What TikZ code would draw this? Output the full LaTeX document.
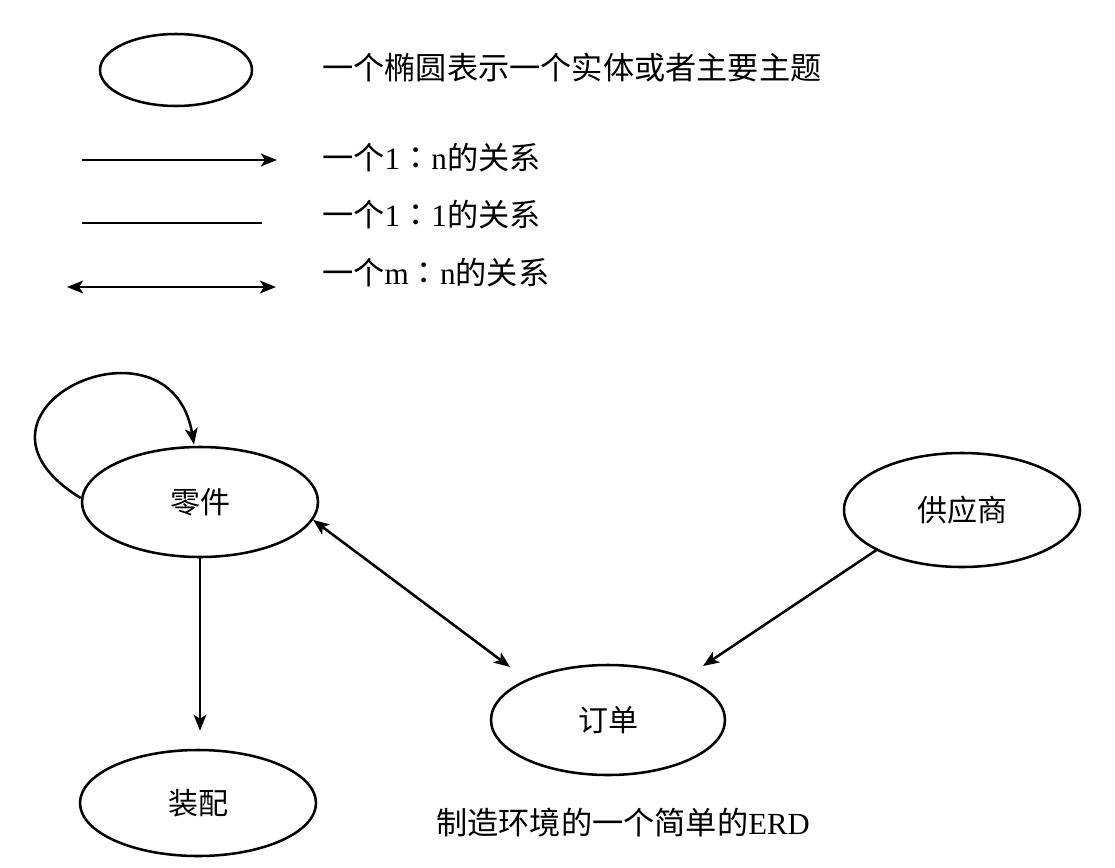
\documentclass[tikz,border=0pt]{standalone}
\usepackage{fontspec}
\setmainfont{Liberation Serif}
\newfontfamily\cjk{Noto Sans CJK SC}
\newfontfamily\cjktc{Noto Sans CJK TC}
\usetikzlibrary{arrows.meta,shapes.geometric}
\begin{document}
\begin{tikzpicture}[x=0.75pt,y=-0.75pt,
  ent/.style={draw,line width=1.9pt,ellipse,inner sep=0pt,font=\fontsize{22.5}{24}\selectfont\cjk},
  tip/.style={line width=1.9pt},
  lbl/.style={anchor=west,inner sep=0pt,font=\fontsize{23.4}{26}\selectfont},
  >={Stealth[length=12pt,width=9.5pt,inset=3pt]}]
\useasboundingbox (0,0) rectangle (1115,868);
% legend
\node[ent,minimum width=152*0.75pt,minimum height=72*0.75pt] (le) at (176,70) {};
\node[lbl] (lt1) at (322,68) {\cjk 一个椭圆表示一个实体或者主要主题};
\coordinate (a1s) at (82,160); \coordinate (a1e) at (277,160);
\draw[tip,->] (a1s) -- (a1e);
\node[lbl] (lt2) at (322,158) {{\cjk 一个}1{\cjktc ：}n{\cjk 的关系}};
\coordinate (a2s) at (82,223); \coordinate (a2e) at (262,223);
\draw[tip] (a2s) -- (a2e);
\node[lbl] (lt3) at (322,215) {{\cjk 一个}1{\cjktc ：}1{\cjk 的关系}};
\coordinate (a3s) at (67,287); \coordinate (a3e) at (276,287);
\draw[tip,<->] (a3s) -- (a3e);
\node[lbl] (lt4) at (322,273) {{\cjk 一个}m{\cjktc ：}n{\cjk 的关系}};
% entities
\node[ent,minimum width=236*0.75pt,minimum height=110*0.75pt] (lj) at (200,502) {零件};
\node[ent,minimum width=236*0.75pt,minimum height=106*0.75pt] (zp) at (198,803) {装配};
\node[ent,minimum width=234*0.75pt,minimum height=110*0.75pt] (dd) at (608,720) {订单};
\node[ent,minimum width=236*0.75pt,minimum height=114*0.75pt] (gys) at (962,510) {供应商};
% connectors
\draw[tip,->] ([yshift=3pt]lj.west) .. controls +(-142,-87) and +(-24,-141) .. ([xshift=-4.5pt,yshift=1pt]lj.north);
\draw[tip,->,shorten >=18*0.75pt] (lj.south) -- (lj.south |- zp.north);
\draw[tip,<->] (lj.-9) -- ([shift={(-98,-53)}]dd.center);
\draw[tip,->] ([shift={(-84,39)}]gys.center) -- ([shift={(95,-54)}]dd.center);
% caption
\node[font=\fontsize{23}{26}\selectfont,inner sep=0pt] (cap) at (623,823) {{\cjk\fontsize{23.4}{26}\selectfont 制造环境的一个简单的}ERD};
\end{tikzpicture}
\end{document}
